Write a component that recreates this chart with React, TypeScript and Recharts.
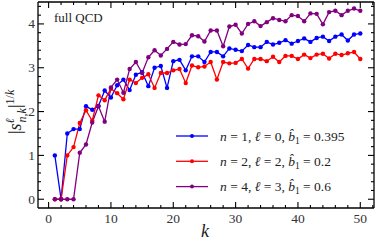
import { Line, LineChart, XAxis, YAxis } from "recharts";

const kValues = [
  1, 2, 3, 4, 5, 6, 7, 8, 9, 10, 11, 12, 13, 14, 15, 16, 17, 18, 19, 20, 21, 22, 23, 24, 25,
  26, 27, 28, 29, 30, 31, 32, 33, 34, 35, 36, 37, 38, 39, 40, 41, 42, 43, 44, 45, 46, 47, 48, 49, 50,
];

// n = 1, l = 0, b1 = 0.395
const seriesN1 = [
  1.0, 0, 1.5, 1.6, 1.6, 2.12, 2.04, 2.13, 2.48, 2.32,
  2.6, 2.73, 2.49, 2.84, 2.9, 2.58, 3.0, 3.04, 2.54, 3.15,
  3.18, 2.94, 3.26, 3.26, 3.13, 3.36, 3.36, 3.26, 3.44, 3.41,
  3.38, 3.52, 3.47, 3.47, 3.59, 3.53, 3.57, 3.63, 3.55, 3.61,
  3.67, 3.59, 3.68, 3.71, 3.61, 3.71, 3.76, 3.62, 3.76, 3.78,
];

// n = 2, l = 2, b1 = 0.2
const seriesN2 = [
  0, 0, 1.0, 1.19, 1.74, 2.03, 1.79, 2.37, 2.26, 2.52,
  2.42, 2.28, 2.73, 2.65, 2.77, 2.85, 2.54, 2.88, 2.88, 2.94,
  2.97, 2.65, 3.05, 3.01, 3.03, 3.13, 2.73, 3.13, 3.1, 3.11,
  3.2, 2.98, 3.2, 3.2, 3.15, 3.25, 3.13, 3.27, 3.27, 3.2,
  3.3, 3.22, 3.3, 3.32, 3.21, 3.32, 3.29, 3.33, 3.36, 3.2,
];

// n = 4, l = 3, b1 = 0.6
const seriesN4 = [
  0, 0, 0, 0, 1.06, 1.25, 1.75, 2.12, 1.77, 2.55,
  2.73, 2.43, 2.97, 3.13, 2.88, 3.24, 3.4, 3.28, 3.43, 3.59,
  3.53, 3.54, 3.74, 3.72, 3.6, 3.85, 3.85, 3.49, 3.94, 3.98,
  3.78, 4.0, 4.06, 3.95, 4.04, 4.13, 4.09, 4.06, 4.2, 4.18,
  4.06, 4.24, 4.23, 3.99, 4.27, 4.3, 4.2, 4.3, 4.35, 4.3,
];

const xTicks = [0, 2, 4, 6, 8, 10, 12, 14, 16, 18, 20, 22, 24, 26, 28, 30, 32, 34, 36, 38, 40, 42, 44, 46, 48, 50, 52];
const yTicks = [
  0, 0.2, 0.4, 0.6, 0.8, 1, 1.2, 1.4, 1.6, 1.8, 2, 2.2, 2.4, 2.6, 2.8, 3, 3.2, 3.4, 3.6, 3.8, 4, 4.2, 4.4,
];

const rows = kValues.map((k, i) => ({ k, n1: seriesN1[i], n2: seriesN2[i], n4: seriesN4[i] }));

const FONT = "'Liberation Serif', 'DejaVu Serif', serif";
const BLUE = "#0000ff";
const RED = "#ff0000";
const PURPLE = "#800080";

const BottomTick = ({ x, y, payload }: any) => {
  const major = payload.value % 10 === 0;
  return <g>
    <line x1={x} x2={x} y1={y} y2={y - (major ? 6 : 3)} stroke="#000" strokeWidth={1.1} />
    {major && <text x={x} y={y + 15} textAnchor="middle" fontSize={13.5} fontFamily={FONT} fill="#333">{payload.value}</text>}
  </g>;
};

const TopTick = ({ x, y, payload }: any) => {
  const major = payload.value % 10 === 0;
  return <line x1={x} x2={x} y1={y} y2={y + (major ? 6 : 3)} stroke="#000" strokeWidth={1.1} />;
};

const LeftTick = ({ x, y, payload }: any) => {
  const major = Number.isInteger(payload.value);
  return <g>
    <line x1={x} x2={x + (major ? 6 : 3)} y1={y} y2={y} stroke="#000" strokeWidth={1.1} />
    {major && <text x={x - 3} y={y + 4.5} textAnchor="end" fontSize={13.5} fontFamily={FONT} fill="#333">{payload.value}</text>}
  </g>;
};

const RightTick = ({ x, y, payload }: any) => {
  const major = Number.isInteger(payload.value);
  return <line x1={x} x2={x - (major ? 6 : 3)} y1={y} y2={y} stroke="#000" strokeWidth={1.1} />;
};

const legendItems = [
  { color: BLUE, n: "1", l: "0", b: "0.395" },
  { color: RED, n: "2", l: "2", b: "0.2" },
  { color: PURPLE, n: "4", l: "3", b: "0.6" },
];

export default function App() {
  const axisLine = { stroke: "#000", strokeWidth: 1.3 };
  return <div style={{ position: "absolute", left: 0, top: 0, width: 378, height: 243, background: "#fff" }}>
    <LineChart width={378} height={243} data={rows} margin={{ top: 0, right: 0, bottom: 0, left: 0 }}>
      <XAxis xAxisId="b" dataKey="k" type="number" domain={[-1.7, 52.2]} ticks={xTicks} interval={0}
        tickLine={false} tickSize={0} tickMargin={0} height={35} axisLine={axisLine} tick={BottomTick} allowDataOverflow />
      <XAxis xAxisId="t" dataKey="k" orientation="top" type="number" domain={[-1.7, 52.2]} ticks={xTicks} interval={0}
        tickLine={false} tickSize={0} tickMargin={0} height={2} axisLine={axisLine} tick={TopTick} allowDataOverflow />
      <YAxis yAxisId="l" type="number" domain={[-0.2, 4.5]} ticks={yTicks} interval={0}
        tickLine={false} tickSize={0} tickMargin={0} width={38} axisLine={axisLine} tick={LeftTick} allowDataOverflow />
      <YAxis yAxisId="r" orientation="right" type="number" domain={[-0.2, 4.5]} ticks={yTicks} interval={0}
        tickLine={false} tickSize={0} tickMargin={0} width={4} axisLine={axisLine} tick={RightTick} allowDataOverflow />
      <Line xAxisId="b" yAxisId="l" dataKey="n1" stroke={BLUE} strokeWidth={1.3} isAnimationActive={false}
        dot={{ r: 2.2, fill: BLUE, stroke: BLUE, strokeWidth: 0 }} />
      <Line xAxisId="b" yAxisId="l" dataKey="n2" stroke={RED} strokeWidth={1.3} isAnimationActive={false}
        dot={{ r: 2.2, fill: RED, stroke: RED, strokeWidth: 0 }} />
      <Line xAxisId="b" yAxisId="l" dataKey="n4" stroke={PURPLE} strokeWidth={1.3} isAnimationActive={false}
        dot={{ r: 2.2, fill: PURPLE, stroke: PURPLE, strokeWidth: 0 }} />
    </LineChart>
    <svg width={378} height={243} style={{ position: "absolute", left: 0, top: 0, pointerEvents: "none" }}>
      <text x={54} y={22} fontSize={13} fontFamily={FONT} fill="#222">full QCD</text>
      <text x={205} y={237} fontSize={18} fontStyle="italic" fontFamily={FONT} textAnchor="middle" fill="#222">k</text>
      <text transform="translate(21,134) rotate(-90)" fontSize={18} fontFamily={FONT} fill="#222">
        <tspan>|</tspan>
        <tspan fontStyle="italic">s</tspan>
        <tspan fontSize={12} fontStyle="italic" dy={-7}>ℓ</tspan>
        <tspan fontSize={12} fontStyle="italic" dx={-4} dy={12}>n,k</tspan>
        <tspan dy={-5}>|</tspan>
        <tspan fontSize={12} dy={-7}>1/<tspan fontStyle="italic">k</tspan></tspan>
      </text>
      {legendItems.map((item, i) => {
        const y = 136 + i * 25.3;
        return <g key={item.n}>
          <line x1={176} x2={208} y1={y} y2={y} stroke={item.color} strokeWidth={1.3} />
          <circle cx={192} cy={y} r={2} fill={item.color} />
          <text x={220} y={y + 4.5} fontSize={13.5} fontFamily={FONT} fill="#222">
            <tspan fontStyle="italic">n</tspan> = {item.n}, <tspan fontStyle="italic">ℓ</tspan> = {item.l}, <tspan fontStyle="italic">b̂</tspan><tspan fontSize={9.5} dy={3}>1</tspan><tspan dy={-3}> = {item.b}</tspan>
          </text>
        </g>;
      })}
    </svg>
  </div>;
}
